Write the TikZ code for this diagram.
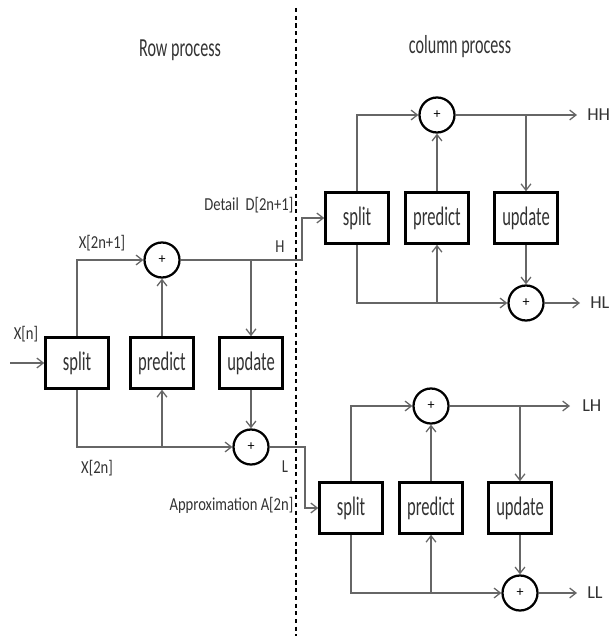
\documentclass[tikz,border=0pt]{standalone}
\usepackage{fontspec}
\setmainfont{Carlito}
\newfontfamily\narrowfont[FakeStretch=0.62]{Carlito}
\newfontfamily\labelfont[FakeStretch=0.8]{Carlito}
\usepackage{tikz}
\usetikzlibrary{arrows.meta,positioning,calc}
\definecolor{Ink}{HTML}{333333}
\definecolor{Wire}{HTML}{666666}

\begin{document}
\begin{tikzpicture}[x=0.025cm,y=-0.025cm,
    block/.style={rectangle,draw=black,line width=1.8pt,minimum width=1.575cm,minimum height=1.275cm,inner sep=0pt,text=Ink,font=\narrowfont\fontsize{19}{20}\selectfont},
    adder/.style={circle,draw=black,line width=1.6pt,minimum size=0.875cm,inner sep=0pt,font=\fontsize{10}{10}\selectfont},
    wire/.style={draw=Wire,line width=0.9pt},
    arr/.style={wire,-{Straight Barb[length=4.5pt,width=7pt]}},
    lbl/.style={text=Ink,font=\labelfont\fontsize{13}{14}\selectfont,inner sep=1pt},
    outlbl/.style={text=Ink,font=\fontsize{13}{14}\selectfont,anchor=west,inner sep=0pt},
    title/.style={text=Ink,font=\narrowfont\fontsize{18.5}{20}\selectfont}
]
\useasboundingbox (0,0) rectangle (611,636);
\node[title] (rowtitle) at (180,50) {Row process};
\node[title] (coltitle) at (460,47) {column process};
\draw[black,line width=1pt,dash pattern=on 3pt off 2.5pt] (296,8) -- (296,636);

% row stage
\node[block] (rsplit) at (77,363) {split};
\node[block] (rpred) at (162,363) {predict};
\node[block] (rupd) at (251,363) {update};
\node[adder] (rsumd) at (162,260) {+};
\node[adder] (rsuma) at (251,447) {+};

% column stage, H branch
\node[block] (hsplit) at (357,218) {split};
\node[block] (hpred) at (437,218) {predict};
\node[block] (hupd) at (526,218) {update};
\node[adder] (hsumd) at (437,115) {+};
\node[adder] (hsuma) at (526,303) {+};

% column stage, L branch
\node[block] (lsplit) at (351,508) {split};
\node[block] (lpred) at (431,508) {predict};
\node[block] (lupd) at (520,508) {update};
\node[adder] (lsumd) at (431,406) {+};
\node[adder] (lsuma) at (520,593) {+};

\coordinate (xin) at (10,363);
\coordinate (hbend) at (302,260);
\coordinate (lbend) at (305,447);
\coordinate (hhend) at (577,115);
\coordinate (hlend) at (580,303);
\coordinate (lhend) at (570,406);
\coordinate (llend) at (577,593);

% labels
\node[lbl] (xn) at (26,334) {X[n]};
\node[lbl] (xodd) at (102,243) {X[2n+1]};
\node[lbl] (xeven) at (97,468) {X[2n]};
\node[lbl] (hlab) at (280,247) {H};
\node[lbl] (llab) at (285,467) {L};
\node[lbl,anchor=east] (detail) at (295,205) {Detail\ \ D[2n+1]};
\node[lbl,anchor=east] (approx) at (295,505) {Approximation A[2n]};
\node[outlbl] (hh) at (587,115) {HH};
\node[outlbl] (hl) at (590,303) {HL};
\node[outlbl] (lh) at (582,406) {LH};
\node[outlbl] (ll) at (587,593) {LL};

% row wiring
\draw[arr] (xin) -- (rsplit);
\draw[arr] (rsplit.north) |- (rsumd);
\draw[arr] (rpred) -- (rsumd);
\draw[arr] (rsumd) -- (hbend) |- (hsplit);
\draw[arr] (rupd.north |- rsumd) -- (rupd);
\draw[arr] (rupd) -- (rsuma);
\draw[arr] (rsplit.south) |- (rsuma);
\draw[arr] (rpred.south |- rsuma) -- (rpred);
\draw[arr] (rsuma) -- (lbend) |- (lsplit);

% H branch wiring
\draw[arr] (hsplit.north) |- (hsumd);
\draw[arr] (hpred) -- (hsumd);
\draw[arr] (hsumd) -- (hhend);
\draw[arr] (hupd.north |- hsumd) -- (hupd);
\draw[arr] (hupd) -- (hsuma);
\draw[arr] (hsplit.south) |- (hsuma);
\draw[arr] (hpred.south |- hsuma) -- (hpred);
\draw[arr] (hsuma) -- (hlend);

% L branch wiring
\draw[arr] (lsplit.north) |- (lsumd);
\draw[arr] (lpred) -- (lsumd);
\draw[arr] (lsumd) -- (lhend);
\draw[arr] (lupd.north |- lsumd) -- (lupd);
\draw[arr] (lupd) -- (lsuma);
\draw[arr] (lsplit.south) |- (lsuma);
\draw[arr] (lpred.south |- lsuma) -- (lpred);
\draw[arr] (lsuma) -- (llend);
\end{tikzpicture}
\end{document}
